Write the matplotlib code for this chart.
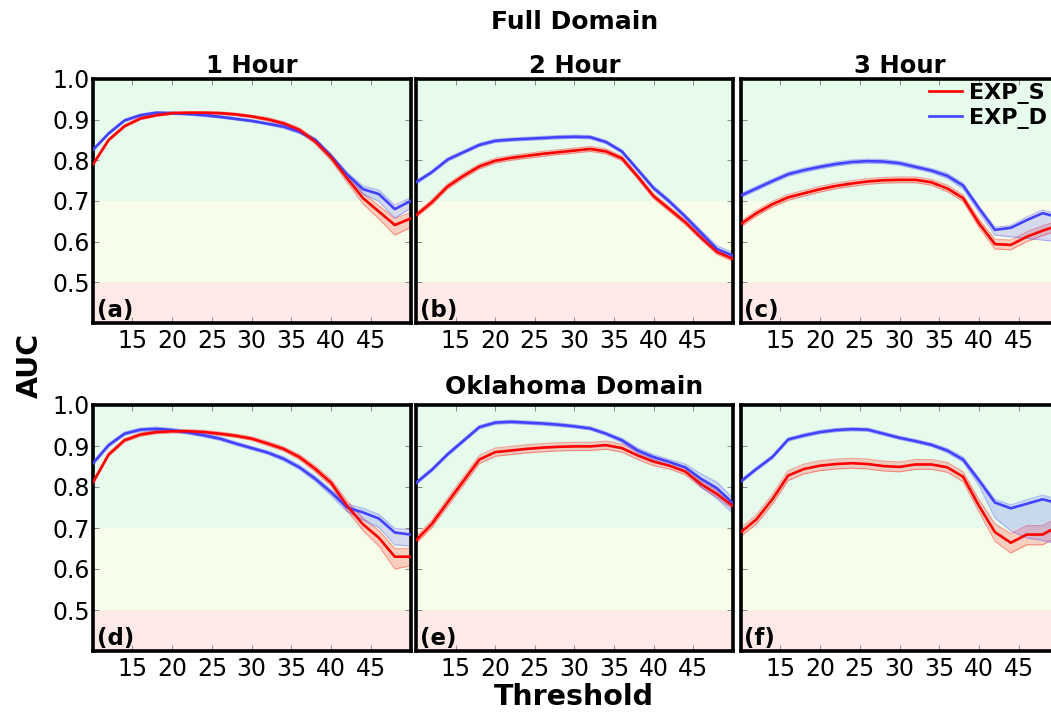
import matplotlib
matplotlib.use("Agg")
import matplotlib.pyplot as plt

# thresholds (dBZ)
thresholds = [10, 12, 14, 16, 18, 20, 22, 24, 26, 28, 30, 32, 34, 36, 38, 40, 42, 44, 46, 48, 50]

# ---- Full domain ----
a_red = [0.789, 0.850, 0.884, 0.903, 0.911, 0.916, 0.917, 0.917, 0.916, 0.913, 0.908, 0.901, 0.891, 0.875, 0.846, 0.807, 0.756, 0.707, 0.674, 0.641, 0.657]
a_blue = [0.825, 0.866, 0.898, 0.911, 0.917, 0.916, 0.914, 0.911, 0.907, 0.902, 0.897, 0.890, 0.883, 0.870, 0.850, 0.810, 0.765, 0.729, 0.717, 0.680, 0.700]
a_red_dn = [0.004, 0.003, 0.003, 0.003, 0.003, 0.003, 0.003, 0.003, 0.003, 0.003, 0.003, 0.004, 0.004, 0.005, 0.006, 0.008, 0.010, 0.014, 0.018, 0.025, 0.022]
a_red_up = [0.004, 0.003, 0.003, 0.003, 0.003, 0.003, 0.003, 0.003, 0.003, 0.003, 0.003, 0.004, 0.004, 0.005, 0.006, 0.008, 0.010, 0.012, 0.015, 0.016, 0.015]
a_blue_dn = [0.003, 0.003, 0.003, 0.003, 0.003, 0.003, 0.003, 0.003, 0.003, 0.003, 0.003, 0.003, 0.004, 0.004, 0.005, 0.006, 0.008, 0.012, 0.018, 0.022, 0.018]
a_blue_up = [0.003, 0.003, 0.003, 0.003, 0.003, 0.003, 0.003, 0.003, 0.003, 0.003, 0.003, 0.003, 0.004, 0.004, 0.005, 0.005, 0.006, 0.008, 0.010, 0.010, 0.008]

b_red = [0.665, 0.697, 0.736, 0.762, 0.785, 0.799, 0.806, 0.811, 0.816, 0.820, 0.824, 0.828, 0.822, 0.805, 0.760, 0.712, 0.680, 0.648, 0.610, 0.575, 0.558]
b_blue = [0.746, 0.771, 0.802, 0.820, 0.838, 0.848, 0.851, 0.853, 0.855, 0.857, 0.858, 0.857, 0.845, 0.822, 0.777, 0.732, 0.699, 0.662, 0.622, 0.582, 0.566]
b_red_dn = [0.005, 0.006, 0.006, 0.006, 0.006, 0.006, 0.006, 0.006, 0.006, 0.006, 0.006, 0.006, 0.006, 0.006, 0.006, 0.006, 0.006, 0.006, 0.006, 0.006, 0.006]
b_red_up = [0.005, 0.006, 0.006, 0.006, 0.006, 0.006, 0.006, 0.006, 0.006, 0.006, 0.006, 0.006, 0.006, 0.006, 0.006, 0.006, 0.006, 0.006, 0.006, 0.006, 0.006]
b_blue_dn = [0.004, 0.004, 0.004, 0.004, 0.004, 0.004, 0.004, 0.004, 0.004, 0.004, 0.004, 0.004, 0.004, 0.004, 0.004, 0.005, 0.005, 0.005, 0.006, 0.008, 0.008]
b_blue_up = [0.004, 0.004, 0.004, 0.004, 0.004, 0.004, 0.004, 0.004, 0.004, 0.004, 0.004, 0.004, 0.004, 0.004, 0.004, 0.005, 0.005, 0.005, 0.006, 0.008, 0.008]

c_red = [0.643, 0.670, 0.692, 0.709, 0.719, 0.729, 0.737, 0.743, 0.748, 0.751, 0.752, 0.752, 0.746, 0.731, 0.707, 0.645, 0.594, 0.592, 0.612, 0.627, 0.640]
c_blue = [0.713, 0.731, 0.749, 0.766, 0.776, 0.784, 0.791, 0.796, 0.798, 0.797, 0.793, 0.784, 0.775, 0.762, 0.738, 0.682, 0.629, 0.634, 0.653, 0.670, 0.660]
c_red_dn = [0.007, 0.007, 0.007, 0.007, 0.007, 0.007, 0.007, 0.007, 0.007, 0.007, 0.007, 0.007, 0.007, 0.008, 0.008, 0.010, 0.012, 0.012, 0.012, 0.012, 0.012]
c_red_up = [0.007, 0.007, 0.007, 0.007, 0.007, 0.007, 0.007, 0.007, 0.007, 0.007, 0.007, 0.007, 0.007, 0.008, 0.008, 0.010, 0.012, 0.012, 0.012, 0.012, 0.012]
c_blue_dn = [0.005, 0.005, 0.005, 0.005, 0.005, 0.005, 0.005, 0.005, 0.005, 0.005, 0.005, 0.005, 0.005, 0.006, 0.008, 0.010, 0.013, 0.022, 0.045, 0.066, 0.060]
c_blue_up = [0.005, 0.005, 0.005, 0.005, 0.005, 0.005, 0.005, 0.005, 0.005, 0.005, 0.005, 0.005, 0.005, 0.006, 0.006, 0.006, 0.006, 0.006, 0.008, 0.008, 0.008]

# ---- Oklahoma domain ----
d_red = [0.810, 0.879, 0.914, 0.928, 0.934, 0.936, 0.936, 0.934, 0.930, 0.925, 0.918, 0.906, 0.893, 0.873, 0.844, 0.810, 0.754, 0.709, 0.676, 0.630, 0.630]
d_blue = [0.857, 0.902, 0.930, 0.940, 0.942, 0.939, 0.933, 0.926, 0.918, 0.906, 0.895, 0.884, 0.869, 0.848, 0.820, 0.787, 0.750, 0.738, 0.723, 0.689, 0.684]
d_red_dn = [0.004, 0.004, 0.004, 0.004, 0.004, 0.004, 0.004, 0.004, 0.004, 0.004, 0.004, 0.005, 0.005, 0.006, 0.007, 0.008, 0.012, 0.015, 0.020, 0.030, 0.022]
d_red_up = [0.004, 0.004, 0.004, 0.004, 0.004, 0.004, 0.004, 0.004, 0.004, 0.004, 0.004, 0.005, 0.005, 0.006, 0.007, 0.008, 0.012, 0.015, 0.018, 0.020, 0.020]
d_blue_dn = [0.004, 0.004, 0.004, 0.004, 0.004, 0.004, 0.004, 0.004, 0.004, 0.004, 0.004, 0.004, 0.005, 0.005, 0.006, 0.008, 0.010, 0.018, 0.022, 0.030, 0.028]
d_blue_up = [0.004, 0.004, 0.004, 0.004, 0.004, 0.004, 0.004, 0.004, 0.004, 0.004, 0.004, 0.004, 0.005, 0.005, 0.006, 0.006, 0.008, 0.010, 0.010, 0.010, 0.012]

e_red = [0.670, 0.710, 0.763, 0.815, 0.867, 0.885, 0.889, 0.893, 0.896, 0.898, 0.899, 0.899, 0.902, 0.895, 0.877, 0.862, 0.852, 0.838, 0.807, 0.783, 0.754]
e_blue = [0.810, 0.842, 0.880, 0.913, 0.946, 0.957, 0.959, 0.957, 0.955, 0.952, 0.948, 0.943, 0.930, 0.914, 0.889, 0.873, 0.861, 0.848, 0.820, 0.797, 0.761]
e_red_dn = [0.008, 0.009, 0.010, 0.010, 0.010, 0.010, 0.010, 0.010, 0.010, 0.010, 0.010, 0.010, 0.010, 0.010, 0.010, 0.010, 0.008, 0.008, 0.008, 0.008, 0.008]
e_red_up = [0.008, 0.009, 0.010, 0.010, 0.010, 0.010, 0.010, 0.010, 0.010, 0.010, 0.010, 0.010, 0.010, 0.010, 0.010, 0.010, 0.008, 0.008, 0.008, 0.008, 0.008]
e_blue_dn = [0.004, 0.004, 0.004, 0.004, 0.004, 0.004, 0.004, 0.004, 0.004, 0.004, 0.004, 0.004, 0.004, 0.005, 0.006, 0.006, 0.008, 0.010, 0.020, 0.025, 0.025]
e_blue_up = [0.004, 0.004, 0.004, 0.004, 0.004, 0.004, 0.004, 0.004, 0.004, 0.004, 0.004, 0.004, 0.004, 0.005, 0.006, 0.006, 0.006, 0.008, 0.012, 0.015, 0.012]

f_red = [0.689, 0.721, 0.770, 0.828, 0.844, 0.852, 0.856, 0.858, 0.856, 0.851, 0.849, 0.855, 0.855, 0.848, 0.825, 0.754, 0.690, 0.664, 0.684, 0.684, 0.705]
f_blue = [0.813, 0.844, 0.873, 0.916, 0.926, 0.934, 0.939, 0.941, 0.940, 0.930, 0.920, 0.912, 0.903, 0.889, 0.867, 0.816, 0.762, 0.748, 0.759, 0.770, 0.760]
f_red_dn = [0.010, 0.011, 0.012, 0.012, 0.012, 0.012, 0.012, 0.012, 0.012, 0.012, 0.012, 0.012, 0.012, 0.012, 0.012, 0.015, 0.022, 0.025, 0.025, 0.025, 0.025]
f_red_up = [0.010, 0.011, 0.012, 0.012, 0.012, 0.012, 0.012, 0.012, 0.012, 0.012, 0.012, 0.012, 0.012, 0.012, 0.012, 0.015, 0.020, 0.022, 0.022, 0.022, 0.022]
f_blue_dn = [0.004, 0.004, 0.004, 0.004, 0.004, 0.004, 0.004, 0.004, 0.004, 0.004, 0.004, 0.004, 0.004, 0.005, 0.006, 0.012, 0.037, 0.055, 0.083, 0.100, 0.100]
f_blue_up = [0.004, 0.004, 0.004, 0.004, 0.004, 0.004, 0.004, 0.004, 0.004, 0.004, 0.004, 0.004, 0.004, 0.005, 0.006, 0.006, 0.008, 0.008, 0.010, 0.010, 0.010]

panel_labels = ["(a)", "(b)", "(c)", "(d)", "(e)", "(f)"]
hour_titles = ["1 Hour", "2 Hour", "3 Hour"]
series_names = ["EXP_S", "EXP_D"]

RED = "#ff0000"
BLUE = "#4343ff"

panels = [
    (a_red, a_red_dn, a_red_up, a_blue, a_blue_dn, a_blue_up),
    (b_red, b_red_dn, b_red_up, b_blue, b_blue_dn, b_blue_up),
    (c_red, c_red_dn, c_red_up, c_blue, c_blue_dn, c_blue_up),
    (d_red, d_red_dn, d_red_up, d_blue, d_blue_dn, d_blue_up),
    (e_red, e_red_dn, e_red_up, e_blue, e_blue_dn, e_blue_up),
    (f_red, f_red_dn, f_red_up, f_blue, f_blue_dn, f_blue_up),
]

W, H = 1051, 715
fig = plt.figure(figsize=(W / 100, H / 100), dpi=100)

# panel geometry in pixels (third column runs past the right edge, as in the original)
col_left = [92.7, 416.0, 740.5]
col_width = [318.0, 316.7, 318.0]
row_top = [79.0, 405.0]
row_height = [244.0, 246.0]


def band(ax, x, y, dn, up, color):
    lo = [v - d for v, d in zip(y, dn)]
    hi = [v + u for v, u in zip(y, up)]
    ax.fill_between(x, lo, hi, color=color, alpha=0.18, lw=0, zorder=2)
    ax.plot(x, lo, color=color, lw=0.8, alpha=0.35, zorder=2)
    ax.plot(x, hi, color=color, lw=0.8, alpha=0.35, zorder=2)


axes = []
for i in range(6):
    r, c = divmod(i, 3)
    rect = [col_left[c] / W, 1 - (row_top[r] + row_height[r]) / H,
            col_width[c] / W, row_height[r] / H]
    ax = fig.add_axes(rect)
    axes.append(ax)

    # skill background
    ax.axhspan(0.7, 1.0, color="#e6fbeb", lw=0, zorder=0)
    ax.axhspan(0.5, 0.7, color="#f6fde9", lw=0, zorder=0)
    ax.axhspan(0.4, 0.5, color="#fdeae7", lw=0, zorder=0)

    red, red_dn, red_up, blue, blue_dn, blue_up = panels[i]
    band(ax, thresholds, red, red_dn, red_up, RED)
    band(ax, thresholds, blue, blue_dn, blue_up, BLUE)
    ax.plot(thresholds, red, color=RED, lw=1.9, zorder=4, label=series_names[0])
    ax.plot(thresholds, blue, color=BLUE, lw=1.9, zorder=3, label=series_names[1])

    ax.set_xlim(10, 50)
    ax.set_ylim(0.4, 1.0)
    ax.set_xticks([15, 20, 25, 30, 35, 40, 45])
    ax.set_yticks([0.5, 0.6, 0.7, 0.8, 0.9, 1.0])
    ax.tick_params(direction="in", top=True, right=True, length=4, width=0.6,
                   color="#777777", labelsize=17, pad=4)
    ax.tick_params(axis="y", pad=2)
    if c != 0:
        ax.set_yticklabels([])
    for s in ax.spines.values():
        s.set_linewidth(2.6)
    ax.text(0.012, 0.005, panel_labels[i], transform=ax.transAxes,
            fontsize=16.5, fontweight="bold", ha="left", va="bottom", zorder=6)
    if r == 0:
        ax.set_title(hour_titles[c], fontsize=17.5, fontweight="bold", pad=4)

# legend in panel (c)
axes[2].legend(loc="upper left", bbox_to_anchor=(0.592, 0.985), frameon=False,
               borderaxespad=0, borderpad=0, handlelength=1.5, handletextpad=0.3,
               labelspacing=0.2, prop={"size": 16, "weight": "bold"})

mid = (col_left[1] + col_width[1] / 2) / W
fig.text(mid, 1 - 22 / H, "Full Domain", ha="center", va="center",
         fontsize=18, fontweight="bold")
fig.text(mid, 1 - 387 / H, "Oklahoma Domain", ha="center", va="center",
         fontsize=18, fontweight="bold")
fig.text(mid, 1 - 697 / H, "Threshold", ha="center", va="center",
         fontsize=20.5, fontweight="bold")
fig.text(30 / W, 1 - 365 / H, "AUC", ha="center", va="center", rotation=90,
         fontsize=20.5, fontweight="bold")

fig.savefig("out.png", dpi=100)
